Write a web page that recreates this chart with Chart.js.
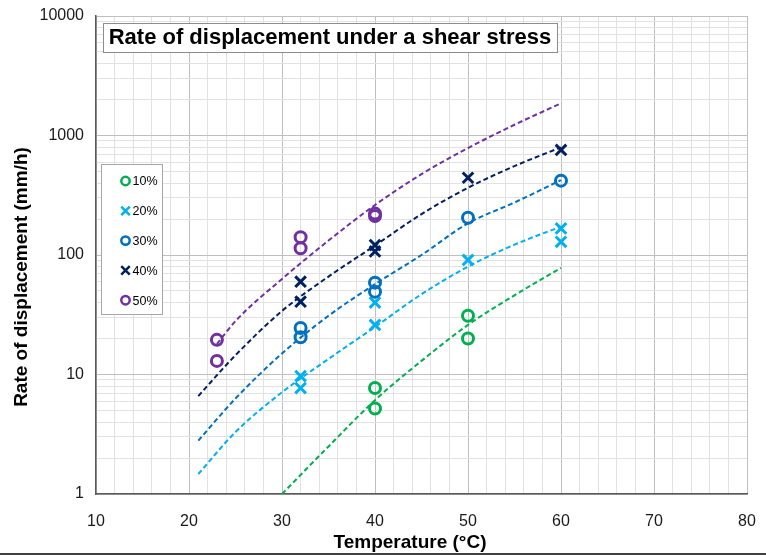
<!DOCTYPE html>
<html>
<head>
<meta charset="utf-8">
<script src="https://cdn.jsdelivr.net/npm/chart.js@4.4.1/dist/chart.umd.min.js"></script>
<style>
  html, body { margin: 0; padding: 0; background: #fff; }
</style>
</head>
<body>
<canvas id="chart" width="766" height="556"></canvas>
<script>
// Measured points (temperature in degC, rate in mm/h)
var temp10 = [40, 40, 50, 50];
var rate10 = [7.7, 5.2, 31, 20];
var temp20 = [32, 32, 40, 40, 50, 60, 60];
var rate20 = [9.7, 7.7, 40, 26, 91, 167, 129];
var temp30 = [32, 32, 40, 40, 50, 60];
var rate30 = [24.5, 20.5, 58.7, 49.3, 205, 419];
var temp40 = [32, 32, 40, 40, 50, 60];
var rate40 = [59.8, 40.7, 121, 107, 443, 757];
var temp50 = [23, 23, 32, 32, 40, 40];
var rate50 = [19.5, 13, 141, 114, 222, 212];

// Trend lines
var fitTemp = [21, 25, 30, 35, 40, 45, 50, 55, 60];
var fit10 = [null, null, 1.0, 2.5, 6.1, 13, 26, 46, 78];
var fit20 = [1.47, 3.3, 7.1, 13.5, 25, 47, 80, 122, 173];
var fit30 = [2.8, 6.3, 15, 31, 57, 100, 184, 275, 424];
var fit40 = [6.6, 14.5, 34, 66, 120, 220, 365, 555, 796];
var fitTemp50 = [23, 25, 30, 35, 40, 45, 50, 55, 60];
var fit50 = [18, 28, 63, 132, 262, 475, 785, 1230, 1860];

var seriesLabels = ['10%', '20%', '30%', '40%', '50%'];
var seriesColors = ['#00B050', '#00B0F0', '#0070C0', '#002060', '#7030A0'];
var seriesMarkers = ['circle', 'crossRot', 'circle', 'crossRot', 'circle'];

var xTicks = [10, 20, 30, 40, 50, 60, 70, 80];
var yTicks = [1, 10, 100, 1000, 10000];

var chartTitle = 'Rate of displacement under a shear stress';
var xTitle = 'Temperature (°C)';
var yTitle = 'Rate of displacement (mm/h)';

var FONT = "'Liberation Sans', Arial, sans-serif";

function toPoints(xs, ys) {
  var out = [];
  for (var i = 0; i < xs.length; i++) {
    if (ys[i] !== null) out.push({x: xs[i], y: ys[i]});
  }
  return out;
}

function pointSet(k, xs, ys) {
  var cross = seriesMarkers[k] === 'crossRot';
  return {
    label: seriesLabels[k],
    data: toPoints(xs, ys),
    showLine: false,
    pointStyle: seriesMarkers[k],
    pointRadius: cross ? 7.5 : 5.5,
    pointHoverRadius: cross ? 7.5 : 5.5,
    borderColor: seriesColors[k],
    backgroundColor: 'rgba(0,0,0,0)',
    pointBorderWidth: 3,
    borderWidth: 3
  };
}

function fitSet(k, xs, ys) {
  return {
    label: seriesLabels[k] + ' fit',
    data: toPoints(xs, ys),
    showLine: true,
    pointRadius: 0,
    borderColor: seriesColors[k],
    borderWidth: 2,
    borderDash: [5, 3],
    cubicInterpolationMode: 'monotone',
    fill: false
  };
}

function isDecade(v) {
  var l = Math.log10(v);
  return Math.abs(l - Math.round(l)) < 1e-9;
}

// Title box, legend box and axis titles (placed like the original, off-centre)
var overlayPlugin = {
  id: 'overlay',
  afterDraw: function(chart) {
    var ctx = chart.ctx;
    ctx.save();

    // title box
    ctx.fillStyle = '#fff';
    ctx.fillRect(103, 23, 454, 29);
    ctx.strokeStyle = '#8c8c8c';
    ctx.lineWidth = 1;
    ctx.strokeRect(103.5, 23.5, 454, 29);
    ctx.fillStyle = '#000';
    ctx.font = 'bold 22px ' + FONT;
    ctx.textAlign = 'center';
    ctx.textBaseline = 'middle';
    ctx.fillText(chartTitle, 330, 38);

    // axis titles
    ctx.font = 'bold 19px ' + FONT;
    ctx.fillText(xTitle, 410, 543);
    ctx.save();
    ctx.translate(22, 277);
    ctx.rotate(-Math.PI / 2);
    ctx.fillText(yTitle, 0, 0);
    ctx.restore();

    // legend box
    ctx.fillStyle = '#fff';
    ctx.fillRect(101, 164, 61, 150);
    ctx.strokeStyle = '#a6a6a6';
    ctx.lineWidth = 1;
    ctx.strokeRect(101.5, 164.5, 61, 150);
    ctx.font = '12.5px ' + FONT;
    ctx.textAlign = 'left';
    for (var k = 0; k < seriesLabels.length; k++) {
      var y = 181 + k * 29.8;
      var cross = seriesMarkers[k] === 'crossRot';
      ctx.strokeStyle = seriesColors[k];
      ctx.fillStyle = 'rgba(0,0,0,0)';
      ctx.lineWidth = 2.5;
      Chart.helpers.drawPoint(ctx, {
        pointStyle: seriesMarkers[k],
        radius: cross ? 6 : 4.2,
        rotation: 0,
        borderWidth: 2.5
      }, 125.5, y);
      ctx.fillStyle = '#000';
      ctx.fillText(seriesLabels[k], 132.5, y + 1);
    }

    // frame line along the bottom of the picture
    ctx.fillStyle = '#404040';
    ctx.fillRect(0, 553, 766, 2);
    ctx.restore();
  }
};

var datasets = [
  pointSet(0, temp10, rate10),
  pointSet(1, temp20, rate20),
  pointSet(2, temp30, rate30),
  pointSet(3, temp40, rate40),
  pointSet(4, temp50, rate50),
  fitSet(0, fitTemp, fit10),
  fitSet(1, fitTemp, fit20),
  fitSet(2, fitTemp, fit30),
  fitSet(3, fitTemp, fit40),
  fitSet(4, fitTemp50, fit50)
];

new Chart(document.getElementById('chart'), {
  type: 'scatter',
  data: {datasets: datasets},
  plugins: [overlayPlugin],
  options: {
    responsive: false,
    devicePixelRatio: 1,
    animation: false,
    events: [],
    layout: {padding: {left: 0, top: 16, right: 19, bottom: 0}},
    plugins: {legend: {display: false}, tooltip: {enabled: false}, title: {display: false}},
    scales: {
      x: {
        type: 'linear',
        min: xTicks[0],
        max: xTicks[xTicks.length - 1],
        afterBuildTicks: function(scale) {
          var t = [];
          for (var v = xTicks[0]; v <= xTicks[xTicks.length - 1]; v += 2) t.push({value: v});
          scale.ticks = t;
        },
        afterFit: function(scale) {
          scale.height = 62;
          scale.paddingLeft = 0;
          scale.paddingRight = 0;
        },
        ticks: {
          autoSkip: false,
          maxRotation: 0,
          padding: 18,
          color: '#1a1a1a',
          font: {family: FONT, size: 16},
          callback: function(v) { return xTicks.indexOf(v) >= 0 ? String(v) : ''; }
        },
        grid: {
          drawTicks: false,
          color: function(c) { return c.tick && c.tick.value % 10 === 0 ? '#BFBFBF' : '#E2E2E2'; },
          lineWidth: 1
        },
        border: {color: '#595959', width: 1.5},
        title: {display: false}
      },
      y: {
        type: 'logarithmic',
        min: yTicks[0],
        max: yTicks[yTicks.length - 1],
        afterBuildTicks: function(scale) {
          var t = [];
          for (var d = 0; d < yTicks.length - 1; d++) {
            for (var m = 1; m < 10; m++) t.push({value: yTicks[d] * m});
          }
          t.push({value: yTicks[yTicks.length - 1]});
          scale.ticks = t;
        },
        afterFit: function(scale) {
          scale.width = 96;
          scale.paddingTop = 0;
          scale.paddingBottom = 0;
        },
        ticks: {
          autoSkip: false,
          padding: 12,
          color: '#1a1a1a',
          font: {family: FONT, size: 16},
          callback: function(v) { return yTicks.indexOf(v) >= 0 ? String(v) : ''; }
        },
        grid: {
          drawTicks: false,
          color: function(c) { return c.tick && isDecade(c.tick.value) ? '#BFBFBF' : '#E2E2E2'; },
          lineWidth: 1
        },
        border: {color: '#595959', width: 1.5},
        title: {display: false}
      }
    }
  }
});
</script>
</body>
</html>
